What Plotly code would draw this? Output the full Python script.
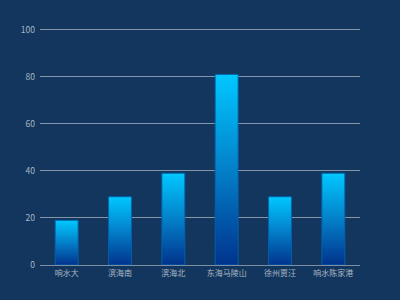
import plotly.graph_objects as go

categories = ['响水大', '滨海南', '滨海北', '东海马陵山', '徐州贾汪', '响水陈家港']
values = [19, 29, 39, 81, 29, 39]
y_ticks = [0, 20, 40, 60, 80, 100]

bar_w = 0.43
bg = '#12365d'

fig = go.Figure()
for i, (c, v) in enumerate(zip(categories, values)):
    x0, x1 = i - bar_w / 2, i + bar_w / 2
    fig.add_trace(go.Scatter(
        x=[x0, x1, x1, x0, x0],
        y=[0, 0, v, v, 0],
        mode='lines',
        fill='toself',
        line=dict(color='rgba(0,100,175,0.9)', width=1),
        fillgradient=dict(
            type='vertical',
            colorscale=[[0, '#01338c'], [0.5, '#0380c9'], [1, '#00c8ff']],
        ),
        name=c,
        hovertemplate=f'{c}: {v}<extra></extra>',
        showlegend=False,
    ))

fig.update_layout(
    width=400, height=300,
    margin=dict(l=40, r=40, t=25, b=35),
    paper_bgcolor=bg, plot_bgcolor=bg,
    font=dict(family='Noto Sans CJK SC, sans-serif', size=9, color='#aab6c4'),
    xaxis=dict(
        range=[-0.5, len(categories) - 0.5],
        tickmode='array', tickvals=list(range(len(categories))), ticktext=categories,
        tickfont=dict(size=8),
        showgrid=False, zeroline=False,
        showline=True, linecolor='#7f8fa3', linewidth=1,
        ticks='', ticklen=0,
        fixedrange=True,
    ),
    yaxis=dict(
        range=[0, 102],
        tickmode='array', tickvals=y_ticks,
        tickfont=dict(size=8.5),
        showgrid=True, gridcolor='#8595a8', gridwidth=1,
        zeroline=False, showline=False,
        ticks='', ticklabelstandoff=4,
        fixedrange=True,
    ),
)

fig.write_html('out.html')
